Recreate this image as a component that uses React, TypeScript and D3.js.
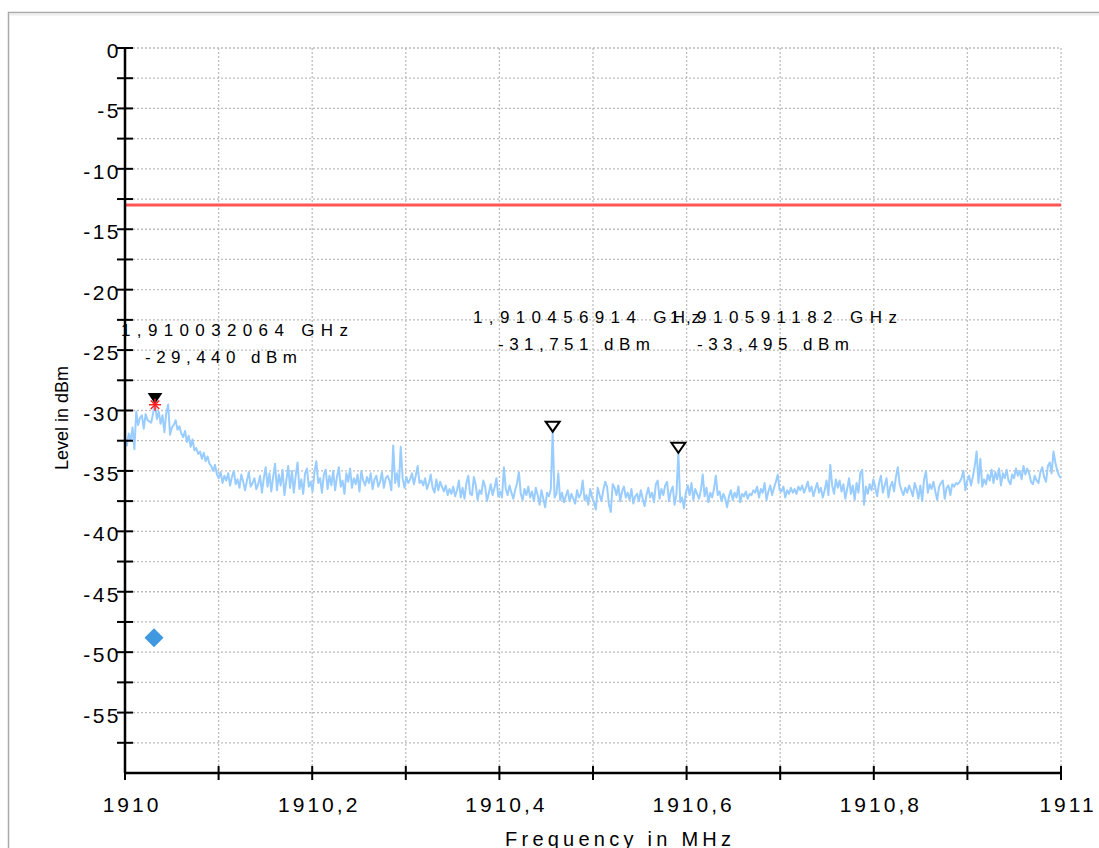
import * as d3 from 'd3';

// sweep: 500 points from 1910 MHz to 1911 MHz
const freqStart = 1910;
const freqStop = 1911;
const pointCount = 500;

const traceLevels = [
  -32.3, -32.9, -31.9, -32.5, -31.4, -33.2, -30.1, -31.2, -30.6, -30.4,
  -31.5, -30.3, -30.8, -30.9, -31.0, -30.2, -29.44, -30.7, -30.1, -31.1,
  -30.4, -31.8, -30.2, -29.5, -32.0, -31.4, -31.2, -30.8, -31.6, -31.3,
  -31.9, -32.2, -31.7, -32.6, -32.1, -33.0, -32.4, -33.3, -33.1, -33.6,
  -33.4, -34.0, -33.5, -34.2, -33.8, -34.4, -34.6, -35.0, -34.5, -35.3,
  -35.6, -35.1, -36.0, -35.4, -35.8, -35.2, -36.2, -35.5, -35.0, -36.1,
  -35.7, -36.4, -35.3, -35.9, -36.6, -35.8, -35.1, -36.3, -36.0, -35.6,
  -36.5, -36.1, -35.4, -36.8, -35.6, -34.7, -36.3, -35.2, -36.7, -35.5,
  -34.4, -36.6, -35.3, -36.2, -34.9, -37.0, -35.8, -34.6, -36.4, -35.0,
  -36.8, -35.4, -34.3, -36.5, -35.7, -36.9, -35.2, -34.8, -36.3, -35.9,
  -36.7, -35.1, -34.2, -36.0, -35.6, -36.8, -35.3, -34.9, -36.5, -35.4,
  -36.2, -35.0, -36.6, -35.5, -34.7, -36.3, -35.8, -36.9, -35.2, -35.9,
  -34.8, -36.4, -35.6, -36.1, -35.3, -36.7, -35.0, -35.8, -36.2, -35.5,
  -36.0, -35.2, -36.5, -35.7, -35.4, -36.3, -35.9, -35.1, -36.4, -35.6,
  -35.4, -35.8, -36.6, -32.9, -36.0, -35.2, -36.3, -33.0, -35.6, -36.4,
  -35.5, -36.0, -35.7, -35.2, -36.1, -35.4, -34.6, -36.0, -35.8, -36.2,
  -35.6, -36.5, -36.0, -35.3, -36.4, -36.8, -35.7, -36.6, -35.9, -36.3,
  -36.7, -36.2, -37.0, -36.5, -36.9, -36.3, -37.1, -36.6, -35.8, -37.2,
  -36.4, -37.3, -36.0, -35.4, -36.9, -37.0, -35.5, -36.2, -37.4, -36.6,
  -36.9, -35.8, -36.3, -37.5, -36.8, -36.1, -37.0, -36.4, -35.6, -37.1,
  -36.7, -37.2, -34.7, -36.5, -37.0, -36.2, -36.8, -37.3, -36.6, -36.0,
  -35.1, -36.9, -37.4, -36.5, -37.0, -36.3, -37.2, -36.7, -37.5, -36.4,
  -37.0, -37.8, -36.6, -37.3, -38.0, -36.8, -37.1, -36.5, -31.751, -37.2,
  -36.9, -35.2, -37.4, -36.8, -37.6, -37.1, -36.6, -37.5, -36.9, -37.3,
  -37.7, -36.6, -37.2, -36.9, -35.8, -37.4, -37.0, -37.8, -36.5, -37.2,
  -37.6, -38.2, -36.4, -37.0, -37.5, -36.6, -35.9, -36.3, -37.8, -38.4,
  -36.1, -36.4, -37.0, -36.2, -37.5, -36.7, -36.3, -37.2, -36.8, -37.4,
  -36.5, -37.7, -37.1, -36.9, -37.5, -36.6, -37.3, -37.9, -37.0, -36.4,
  -37.2, -36.8, -37.6, -36.1, -35.8, -37.3, -36.5, -37.0, -36.2, -35.9,
  -37.5, -36.7, -36.3, -37.8, -36.9, -33.495, -37.6, -37.2, -38.1, -36.8,
  -36.2, -37.0, -36.0, -37.4, -36.5, -36.9, -37.3, -36.6, -35.3, -37.1,
  -36.4, -37.6, -36.8, -37.2, -36.5, -35.4, -37.0, -36.7, -37.5, -36.9,
  -37.3, -38.0, -37.1, -36.6, -37.4, -36.8, -37.2, -36.3, -37.6, -36.9,
  -37.1, -36.7, -37.3, -36.9, -37.0, -36.6, -36.8, -36.3, -37.2, -36.5,
  -36.8, -36.0, -37.4, -36.7, -36.2, -37.0, -36.4, -35.9, -35.3, -36.6,
  -36.7, -36.3, -37.2, -36.6, -36.9, -36.4, -36.8, -36.5, -36.9, -36.3,
  -36.6, -36.2, -36.8, -36.4, -35.9, -36.7, -36.3, -37.1, -36.5, -36.0,
  -36.8, -36.4, -37.2, -36.6, -35.8, -37.0, -34.5, -36.2, -36.9, -35.7,
  -36.4, -35.8, -36.7, -36.1, -37.3, -36.5, -35.6, -36.9, -36.2, -37.4,
  -36.0, -36.8, -35.2, -34.9, -37.8, -36.3, -36.9, -36.1, -36.6, -35.7,
  -36.4, -37.1, -36.0, -35.4, -36.8, -36.2, -35.6, -37.2, -36.3, -35.9,
  -36.7, -35.5, -34.7, -36.1, -36.6, -37.0, -36.4, -36.8, -36.2, -36.6,
  -37.1, -36.0, -36.5, -37.3, -36.2, -37.5, -35.7, -35.0, -36.8, -36.1,
  -36.5, -35.9, -36.7, -37.4, -36.3, -36.0, -35.8, -37.3, -36.4, -36.2,
  -37.0, -36.1, -36.3, -36.0, -36.1, -35.9, -35.6, -35.0, -36.6, -35.8,
  -35.4, -36.2, -35.5, -34.6, -33.4, -36.0, -34.0, -36.3, -35.7, -36.1,
  -35.3, -35.8, -34.9, -36.0, -35.1, -35.7, -34.8, -36.2, -35.2, -35.6,
  -34.9, -35.8, -36.1, -35.3, -35.6, -34.8, -35.4, -35.0, -35.7, -34.6,
  -35.3, -34.8, -35.2, -35.9, -36.1, -35.4, -35.8, -36.0, -35.1, -34.7,
  -35.5, -35.9, -34.6, -34.3, -35.2, -33.4, -34.3, -35.0, -35.4, -35.6,
];

const markerFreqs = [1910.032064, 1910.456914, 1910.591182];
const markerLevels = [-29.44, -31.751, -33.495];
const markerFreqLabels = ['1,910032064 GHz', '1,910456914 GHz', '1,910591182 GHz'];
const markerLevelLabels = ['-29,440 dBm', '-31,751 dBm', '-33,495 dBm'];

const limitLevel = -13;
const diamondFreq = 1910.031;
const diamondLevel = -48.8;

const xTicks = [1910, 1910.1, 1910.2, 1910.3, 1910.4, 1910.5, 1910.6, 1910.7, 1910.8, 1910.9, 1911];
const xTickLabels = ['1910', '', '1910,2', '', '1910,4', '', '1910,6', '', '1910,8', '', '1911'];
const yTicks = [0, -2.5, -5, -7.5, -10, -12.5, -15, -17.5, -20, -22.5, -25, -27.5, -30, -32.5, -35, -37.5, -40, -42.5, -45, -47.5, -50, -52.5, -55, -57.5];
const yTickLabels = ['0', '', '-5', '', '-10', '', '-15', '', '-20', '', '-25', '', '-30', '', '-35', '', '-40', '', '-45', '', '-50', '', '-55', ''];

export default function App() {
  const width = 1099;
  const height = 848;
  const font = '"Liberation Sans", Arial, sans-serif';

  const x = d3.scaleLinear().domain([freqStart, freqStop]).range([125, 1061]);
  const y = d3.scaleLinear().domain([-60, 0]).range([773, 48]);

  const freqs = traceLevels.map((_, i) => freqStart + (i * (freqStop - freqStart)) / (pointCount - 1));
  const line = d3
    .line<number>()
    .x((_, i) => x(freqs[i]))
    .y((d) => y(d));

  // label placement (pixels) for each marker readout
  const labelPos = [
    { x1: 121, y1: 336, x2: 145, y2: 363 },
    { x1: 473, y1: 323, x2: 498, y2: 350 },
    { x1: 670, y1: 323, x2: 697, y2: 350 },
  ];

  const tri = (cx: number, tipY: number, w: number, h: number) =>
    `M${cx - w / 2},${tipY - h}L${cx + w / 2},${tipY - h}L${cx},${tipY}Z`;

  const mx0 = x(markerFreqs[0]);
  const my0 = y(markerLevels[0]);

  return (
    <svg
      width={width}
      height={height}
      style={{ position: 'absolute', left: 0, top: 0, background: '#fff' }}
    >
      {/* outer frame */}
      <rect x={8.5} y={12.5} width={1200} height={1000} fill="none" stroke="#a9a9a9" strokeWidth={1.5} />
      <line x1={9} x2={width} y1={14.5} y2={14.5} stroke="#ececec" strokeWidth={2} />

      {/* grid */}
      {yTicks.map((t) => (
        <line key={'gy' + t} x1={x(freqStart)} x2={x(freqStop)} y1={y(t)} y2={y(t)}
          stroke="#bdbdbd" strokeWidth={1.3} strokeDasharray="2,2" />
      ))}
      {xTicks.slice(1).map((t) => (
        <line key={'gx' + t} x1={x(t)} x2={x(t)} y1={y(0)} y2={y(-60)}
          stroke="#bdbdbd" strokeWidth={1.3} strokeDasharray="2,2" />
      ))}

      {/* limit line */}
      <line x1={x(freqStart)} x2={x(freqStop)} y1={y(limitLevel)} y2={y(limitLevel)} stroke="#ff5555" strokeWidth={3} />

      {/* trace */}
      <path d={line(traceLevels) || ''} fill="none" stroke="#99ccff" strokeWidth={2} strokeLinejoin="round" />

      {/* axes */}
      <line x1={x(freqStart)} x2={x(freqStart)} y1={y(0)} y2={y(-60)} stroke="#000" strokeWidth={2.5} />
      <line x1={x(freqStart)} x2={x(freqStop)} y1={y(-60)} y2={y(-60)} stroke="#000" strokeWidth={2.5} />
      {yTicks.map((t, i) => (
        <g key={'ty' + t}>
          <line x1={117} x2={133} y1={y(t)} y2={y(t)} stroke="#000" strokeWidth={2} />
          {yTickLabels[i] && (
            <text x={121} y={y(t) + 10} textAnchor="end" fontFamily={font} fontSize={21} letterSpacing={2.5}>
              {yTickLabels[i]}
            </text>
          )}
        </g>
      ))}
      {xTicks.map((t, i) => (
        <g key={'tx' + t}>
          <line x1={x(t)} x2={x(t)} y1={y(-60) - 7} y2={y(-60) + 7} stroke="#000" strokeWidth={2} />
          {xTickLabels[i] && (
            <text x={x(t) + 7} y={812} textAnchor="middle" fontFamily={font} fontSize={21} letterSpacing={3}>
              {xTickLabels[i]}
            </text>
          )}
        </g>
      ))}

      {/* axis titles */}
      <text x={505} y={846} fontFamily={font} fontSize={20} textLength={226} lengthAdjust="spacing">
        Frequency in MHz
      </text>
      <text transform="translate(68,418) rotate(-90)" textAnchor="middle" fontFamily={font} fontSize={18}>
        Level in dBm
      </text>

      {/* markers */}
      <path d={tri(mx0, my0 - 1, 12, 9)} fill="#000" stroke="#000" strokeWidth={1.5} />
      <g stroke="#ff2020" strokeWidth={1.5}>
        {[0, 45, 90, 135].map((a) => {
          const r = 6;
          const dx = r * Math.cos((a * Math.PI) / 180);
          const dy = r * Math.sin((a * Math.PI) / 180);
          return <line key={a} x1={mx0 - dx} x2={mx0 + dx} y1={my0 + 1 - dy} y2={my0 + 1 + dy} />;
        })}
      </g>
      {markerFreqs.slice(1).map((f, i) => (
        <path key={'m' + f} d={tri(x(f), y(markerLevels[i + 1]), 14, 10)} fill="#fff" stroke="#000" strokeWidth={2} />
      ))}
      {markerFreqs.map((f, i) => (
        <g key={'lab' + f} fontFamily={font} fontSize={17} fill="#000">
          <text x={labelPos[i].x1} y={labelPos[i].y1} textLength={227} lengthAdjust="spacing">
            {markerFreqLabels[i]}
          </text>
          <text x={labelPos[i].x2} y={labelPos[i].y2} textLength={152} lengthAdjust="spacing">
            {markerLevelLabels[i]}
          </text>
        </g>
      ))}

      {/* diamond */}
      <path
        d={d3.symbol(d3.symbolDiamond2, 230)() || ''}
        transform={`translate(${x(diamondFreq)},${y(diamondLevel)})`}
        fill="#3f98e0"
      />
    </svg>
  );
}
